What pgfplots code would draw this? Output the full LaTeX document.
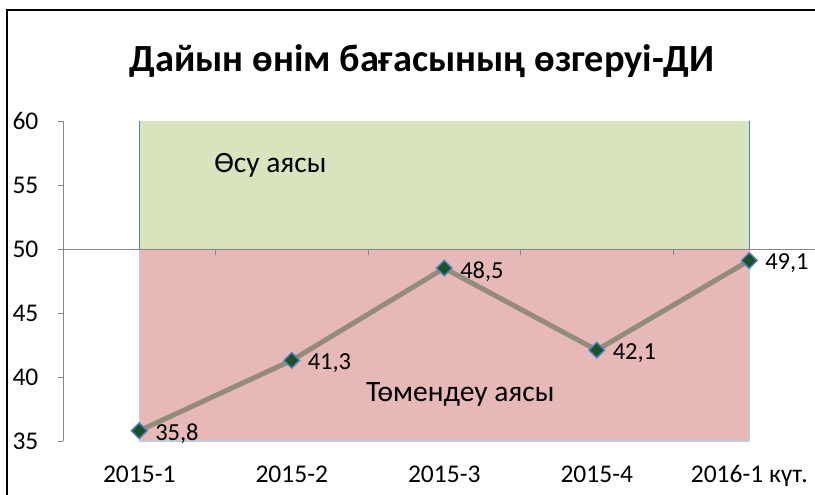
\documentclass[border=0pt]{standalone}
\usepackage{fontspec}
\setmainfont{Carlito}
\usepackage{pgfplots}
\pgfplotsset{compat=1.18}
\definecolor{upfill}{HTML}{D7E4BD}
\definecolor{downfill}{HTML}{E6B9B8}
\definecolor{edgeblue}{HTML}{4F81BD}
\definecolor{edgelight}{HTML}{B9CDE5}
\definecolor{linec}{HTML}{938C7D}
\definecolor{markc}{HTML}{1D4F2A}
\definecolor{axgray}{HTML}{868686}
\begin{document}
\begin{tikzpicture}
\begin{axis}[
  at={(63bp,54bp)}, anchor=south west,
  scale only axis, width=762.5bp, height=320bp,
  xmin=-0.5, xmax=4.5, ymin=35, ymax=60,
  clip=false,
  axis y line*=left, axis x line*=bottom,
  x axis line style={draw=none},
  y axis line style={draw=axgray, line width=1pt},
  xtick={0,1,2,3,4},
  xticklabels={2015-1,2015-2,2015-3,2015-4,2016-1 күт.},
  xtick style={draw=none},
  ytick={35,40,45,50,55,60},
  ytick style={draw=axgray, line width=1pt},
  tick align=outside, major tick length=5bp,
  /pgf/number format/assume math mode=true,
  tick label style={font=\fontsize{25.5bp}{28bp}\selectfont},
  yticklabel style={anchor=west, xshift=-49bp},
  xticklabel style={yshift=-16bp},
]
\addplot[fill=upfill, draw=none] coordinates {(0,50) (0,60) (4,60) (4,50) (0,50)};
\addplot[fill=downfill, draw=none] coordinates {(0,35) (0,50) (4,50) (4,35) (0,35)};
\addplot[edgeblue, line width=1.2pt] coordinates {(0,50) (0,60)};
\addplot[edgeblue, line width=1.2pt] coordinates {(4,50) (4,60)};
\addplot[edgelight, line width=1.2pt] coordinates {(0,35) (0,50)};
\addplot[edgelight, line width=1.2pt] coordinates {(4,35) (4,50)};
\addplot[edgelight, line width=1.2pt] coordinates {(0,35) (4,35)};
\draw[axgray, line width=1pt] (axis cs:-0.5,50) -- (axis cs:4.6,50);
\draw[axgray, line width=1pt] (axis cs:0.5,50) -- ([yshift=-6bp]axis cs:0.5,50);
\draw[axgray, line width=1pt] (axis cs:1.5,50) -- ([yshift=-6bp]axis cs:1.5,50);
\draw[axgray, line width=1pt] (axis cs:2.5,50) -- ([yshift=-6bp]axis cs:2.5,50);
\draw[axgray, line width=1pt] (axis cs:3.5,50) -- ([yshift=-6bp]axis cs:3.5,50);
\addplot[linec, line width=5bp, mark=square*, mark size=5.5bp,
  mark options={fill=markc, draw=edgeblue, line width=1.4pt, rotate=45},
  nodes near coords, point meta=explicit symbolic,
  every node near coord/.append style={anchor=west, xshift=12bp, yshift=-3bp, text=black, font=\fontsize{24.5bp}{28bp}\selectfont}]
  coordinates {(0,35.8)[35,8] (1,41.3)[41,3] (2,48.5)[48,5] (3,42.1)[42,1] (4,49.1)[49,1]};
\node[font=\fontsize{29.5bp}{33bp}\selectfont] at (axis cs:0.86,56.56) {Өсу аясы};
\node[font=\fontsize{29.5bp}{33bp}\selectfont] at (axis cs:2.105,38.6) {Төмендеу аясы};
\end{axis}
\draw[black, line width=2pt] (7bp,0) -- (7bp,485bp) -- (815bp,485bp);
\node[anchor=base, font=\bfseries\fontsize{38.4bp}{42bp}\selectfont] at (422bp,423bp) {Дайын өнім бағасының өзгеруі-ДИ};
\pgfresetboundingbox
\path[use as bounding box] (0,0) rectangle (815bp,495bp);
\end{tikzpicture}
\end{document}
